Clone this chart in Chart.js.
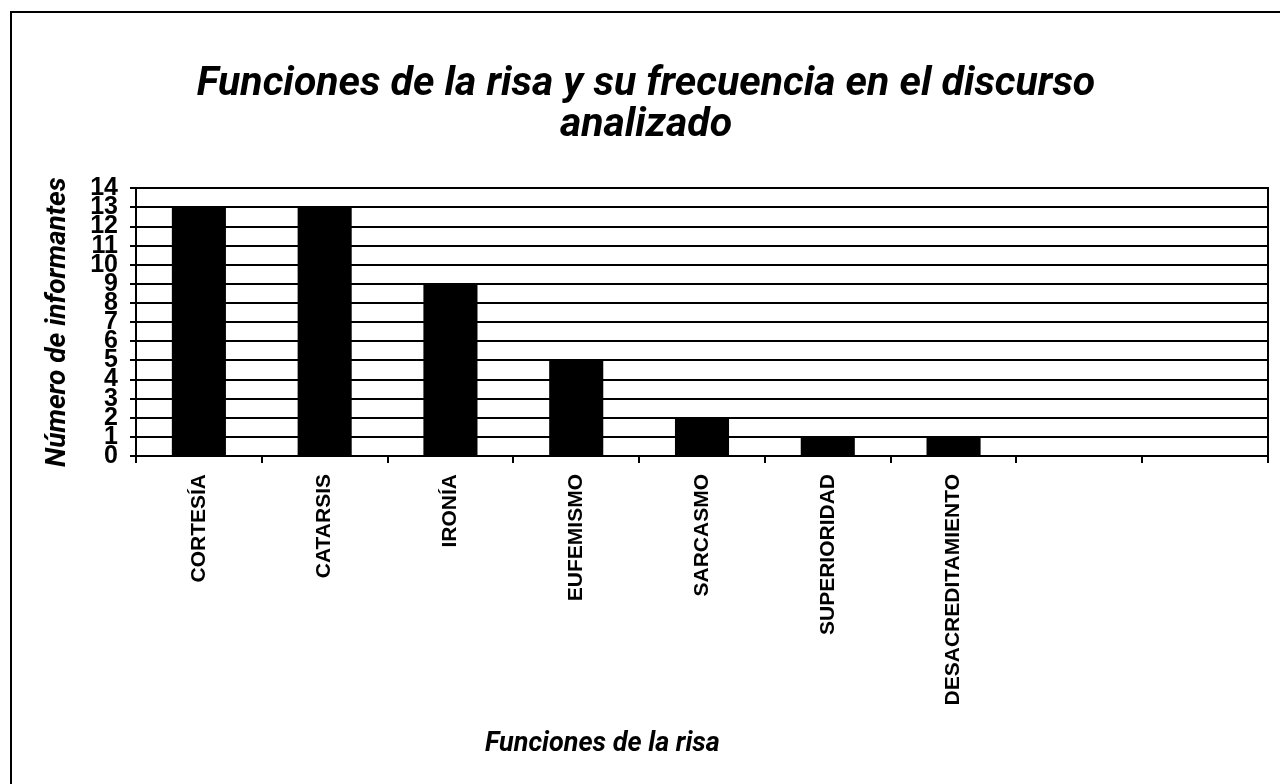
<!DOCTYPE html>
<html lang="es">
<head>
<meta charset="utf-8">
<title>Funciones de la risa</title>
<script src="https://cdn.jsdelivr.net/npm/chart.js@4/dist/chart.umd.min.js"></script>
<style>
    html, body { margin: 0; padding: 0; background: #fff; overflow: hidden; }
    #wrap { position: relative; width: 1280px; height: 784px; overflow: hidden; }
    #frame {
        position: absolute; left: 10px; top: 11px; width: 1300px; height: 800px;
        border-top: 2px solid #000; border-left: 2px solid #000;
    }
    #riskChart { position: absolute; left: 0; top: 0; }
</style>
</head>
<body>
<div id="wrap">
    <div id="frame"></div>
    <canvas id="riskChart" width="1280" height="784"></canvas>
</div>
<script>
// categories (two trailing empty slots as in the original sheet)
const categories = ['CORTESÍA', 'CATARSIS', 'IRONÍA', 'EUFEMISMO', 'SARCASMO', 'SUPERIORIDAD', 'DESACREDITAMIENTO', '', ''];
const counts = [13, 13, 9, 5, 2, 1, 1, null, null];
const yMin = 0;
const yMax = 14;
const yStep = 1;

const titleLines = ['Funciones de la risa y su frecuencia en el discurso', 'analizado'];
const yTitle = 'Número de informantes';
const xTitle = 'Funciones de la risa';

const headFont = 'Roboto, "Open Sans", sans-serif';
const labelFont = '"Liberation Sans", Arial, sans-serif';

// x-axis title sits left of the plot centre in the original, so draw it here
const xTitlePlugin = {
    id: 'xTitle',
    afterDraw(chart) {
        const area = chart.chartArea;
        const ctx = chart.ctx;
        ctx.save();
        ctx.font = 'italic bold 27px ' + headFont;
        ctx.fillStyle = '#000';
        ctx.textAlign = 'center';
        ctx.textBaseline = 'middle';
        ctx.fillText(xTitle, area.left + area.width * 0.412, 744);
        ctx.restore();
    }
};

function renderChart() {
    const ctx = document.getElementById('riskChart').getContext('2d');
    return new Chart(ctx, {
        type: 'bar',
        data: {
            labels: categories,
            datasets: [{
                label: 'Número de informantes',
                data: counts,
                backgroundColor: '#000',
                borderWidth: 0,
                categoryPercentage: 1,
                barPercentage: 0.43
            }]
        },
        plugins: [xTitlePlugin],
        options: {
            responsive: false,
            animation: false,
            layout: { padding: { left: 24, right: 12, top: 0, bottom: 0 } },
            scales: {
                x: {
                    type: 'category',
                    offset: true,
                    grid: {
                        offset: true,
                        drawOnChartArea: false,
                        drawTicks: true,
                        tickLength: 7,
                        color: '#000',
                        lineWidth: 2
                    },
                    border: { display: true, color: '#000', width: 2 },
                    ticks: {
                        autoSkip: false,
                        minRotation: 90,
                        maxRotation: 90,
                        padding: 11,
                        color: '#000',
                        font: { family: labelFont, weight: 'bold', size: 21 }
                    },
                    afterFit(scale) { scale.height = 328; }
                },
                y: {
                    min: yMin,
                    max: yMax,
                    grid: {
                        color: '#000',
                        lineWidth: 2,
                        tickLength: 6,
                        drawTicks: true
                    },
                    border: { display: true, color: '#000', width: 2 },
                    ticks: {
                        stepSize: yStep,
                        autoSkip: false,
                        padding: 12,
                        color: '#000',
                        font: { family: labelFont, weight: 'bold', size: 25, lineHeight: 1 }
                    },
                    title: {
                        display: true,
                        text: yTitle,
                        color: '#000',
                        padding: { top: 17, bottom: 0 },
                        font: { family: headFont, style: 'italic', weight: 'bold', size: 28 }
                    },
                    afterFit(scale) { scale.width = 112; }
                },
                yRight: {
                    position: 'right',
                    min: yMin,
                    max: yMax,
                    grid: { display: false, drawTicks: false },
                    ticks: { display: false },
                    border: { display: true, color: '#000', width: 2 },
                    afterFit(scale) { scale.width = 0; }
                }
            },
            plugins: {
                legend: { display: false },
                tooltip: { enabled: false },
                title: {
                    display: true,
                    text: titleLines,
                    color: '#000',
                    padding: { top: 65, bottom: 43 },
                    font: { family: headFont, style: 'italic', weight: 'bold', size: 41, lineHeight: 0.98 }
                }
            }
        }
    });
}

window.addEventListener('load', function() {
    renderChart();
});
</script>
</body>
</html>
